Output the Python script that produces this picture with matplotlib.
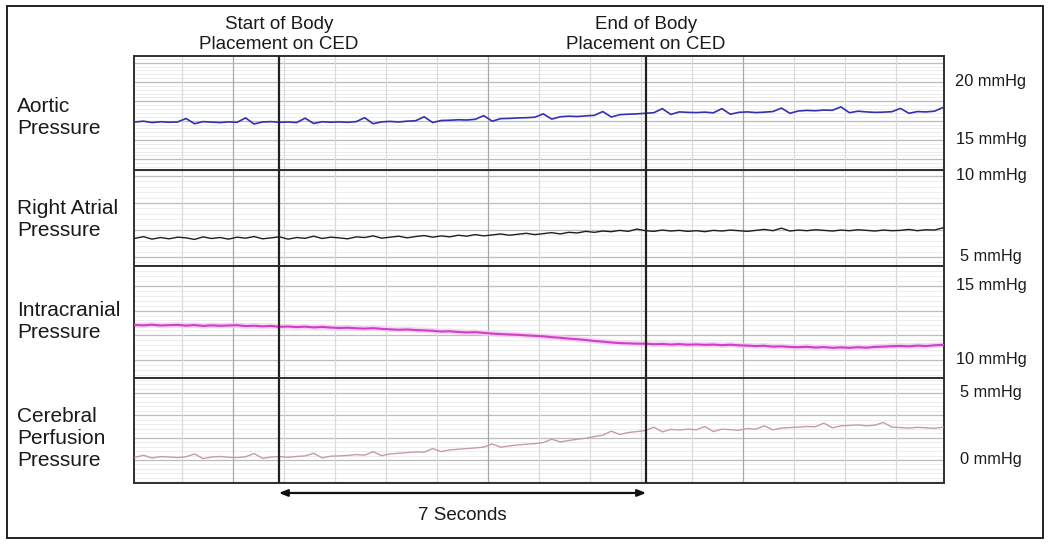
import matplotlib
matplotlib.use('Agg')
import matplotlib.pyplot as plt
import matplotlib.transforms as mtransforms
from matplotlib.patches import Rectangle
import numpy as np

plt.rcParams['font.family'] = ['Liberation Sans', 'DejaVu Sans']

# time axis in grid units (one vertical grid division each)
t = np.linspace(0.08, 15.92, 96)
event_start = 2.9
event_end = 10.1

aortic = [16.55, 16.62, 16.50, 16.57, 16.53, 16.55,
          16.85, 16.40, 16.58, 16.54, 16.50, 16.56,
          16.52, 16.90, 16.38, 16.55, 16.58, 16.52,
          16.55, 16.50, 16.88, 16.42, 16.57, 16.53,
          16.56, 16.52, 16.58, 16.92, 16.40, 16.56,
          16.60, 16.55, 16.62, 16.66, 17.00, 16.50,
          16.68, 16.70, 16.74, 16.72, 16.78, 17.10,
          16.62, 16.84, 16.86, 16.90, 16.92, 16.96,
          17.25, 16.80, 17.00, 17.05, 17.02, 17.08,
          17.12, 17.45, 16.98, 17.18, 17.22, 17.25,
          17.30, 17.35, 17.70, 17.20, 17.42, 17.38,
          17.36, 17.40, 17.34, 17.70, 17.22, 17.38,
          17.42, 17.36, 17.40, 17.45, 17.75, 17.30,
          17.50, 17.55, 17.52, 17.58, 17.56, 17.85,
          17.35, 17.48, 17.42, 17.38, 17.40, 17.44,
          17.72, 17.30, 17.45, 17.42, 17.48, 17.80]

right_atrial = [6.15, 6.25, 6.10, 6.20, 6.12, 6.22,
                6.18, 6.08, 6.24, 6.14, 6.20, 6.10,
                6.22, 6.16, 6.26, 6.12, 6.18, 6.24,
                6.10, 6.20, 6.15, 6.28, 6.14, 6.22,
                6.18, 6.12, 6.24, 6.20, 6.30, 6.16,
                6.22, 6.28, 6.18, 6.26, 6.32, 6.22,
                6.30, 6.24, 6.34, 6.28, 6.38, 6.30,
                6.36, 6.42, 6.34, 6.40, 6.46, 6.38,
                6.44, 6.50, 6.42, 6.52, 6.48, 6.58,
                6.52, 6.60, 6.56, 6.64, 6.58, 6.72,
                6.62, 6.58, 6.66, 6.60, 6.64, 6.58,
                6.62, 6.56, 6.64, 6.60, 6.66, 6.62,
                6.58, 6.64, 6.70, 6.62, 6.78, 6.60,
                6.66, 6.62, 6.68, 6.64, 6.60, 6.66,
                6.62, 6.68, 6.64, 6.60, 6.66, 6.62,
                6.64, 6.70, 6.62, 6.68, 6.66, 6.80]

intracranial = [12.36, 12.34, 12.38, 12.33, 12.35, 12.37,
                12.32, 12.36, 12.30, 12.34, 12.31, 12.33,
                12.35, 12.29, 12.31, 12.27, 12.30, 12.24,
                12.26, 12.22, 12.25, 12.20, 12.23, 12.19,
                12.16, 12.18, 12.14, 12.12, 12.15, 12.10,
                12.07, 12.04, 12.06, 12.02, 12.00, 11.97,
                11.92, 11.94, 11.89, 11.86, 11.88, 11.83,
                11.78, 11.75, 11.72, 11.70, 11.66, 11.63,
                11.60, 11.54, 11.50, 11.44, 11.40, 11.35,
                11.28, 11.24, 11.18, 11.14, 11.12, 11.10,
                11.10, 11.06, 11.08, 11.04, 11.07, 11.03,
                11.05, 11.02, 11.04, 11.00, 11.03, 10.99,
                10.97, 10.94, 10.96, 10.90, 10.92, 10.88,
                10.86, 10.89, 10.84, 10.87, 10.82, 10.85,
                10.82, 10.86, 10.83, 10.88, 10.90, 10.93,
                10.95, 10.92, 10.97, 10.94, 10.99, 11.02]

cerebral = [0.20, 0.35, 0.15, 0.25, 0.22, 0.18,
            0.24, 0.45, 0.10, 0.22, 0.26, 0.20,
            0.18, 0.24, 0.48, 0.12, 0.22, 0.25,
            0.20, 0.26, 0.30, 0.50, 0.16, 0.28,
            0.30, 0.34, 0.40, 0.36, 0.62, 0.32,
            0.45, 0.50, 0.55, 0.60, 0.58, 0.85,
            0.62, 0.75, 0.80, 0.85, 0.90, 0.96,
            1.20, 0.95, 1.05, 1.12, 1.18, 1.22,
            1.30, 1.55, 1.35, 1.45, 1.55, 1.62,
            1.75, 1.85, 2.15, 1.90, 2.05, 2.12,
            2.20, 2.45, 2.10, 2.28, 2.24, 2.30,
            2.25, 2.50, 2.12, 2.30, 2.26, 2.22,
            2.35, 2.30, 2.55, 2.25, 2.38, 2.42,
            2.45, 2.50, 2.48, 2.75, 2.40, 2.55,
            2.58, 2.62, 2.55, 2.60, 2.80, 2.45,
            2.42, 2.38, 2.44, 2.40, 2.36, 2.45]

panel_names = ['Aortic\nPressure', 'Right Atrial\nPressure',
               'Intracranial\nPressure', 'Cerebral\nPerfusion\nPressure']
panel_ylims = [(12.41, 22.24), (4.44, 10.37), (8.78, 16.35), (-1.72, 6.12)]
scale_labels = [[20, 15], [10, 5], [15, 10], [5, 0]]
series = [aortic, right_atrial, intracranial, cerebral]
colors = ['#3430b0', '#1e1e1e', '#cc40c4', '#c99aa8']
widths = [1.2, 1.0, 1.5, 1.0]

W, H = 1050, 545
fig = plt.figure(figsize=(10.5, 5.45), dpi=100)

# pixel rows of the four panels (top, bottom)
rows = [(56, 170), (170, 266), (266, 378), (378, 483)]
label_rows = [117, 220, 322, 438]
x0, x1 = 134, 944

axes = []
for i, (top, bot) in enumerate(rows):
    ax = fig.add_axes([x0 / W, 1 - bot / H, (x1 - x0) / W, (bot - top) / H])
    lo, hi = panel_ylims[i]
    ax.set_xlim(0.06, 15.94)
    ax.set_ylim(lo, hi)
    # chart-paper grid
    for v in np.arange(np.ceil(lo * 3) / 3, hi, 1 / 3):
        ax.axhline(v, color='#ededed', lw=0.7, zorder=0)
    top_lab = scale_labels[i][0]
    for k in range(-3, 6):
        v = top_lab - k * 5 / 3
        if lo < v < hi:
            ax.axhline(v, color='#bcbcbc', lw=0.9, zorder=1)
    for g in range(1, 16):
        c = '#a8a8a8' if g in (2, 7, 12) else '#dadada'
        ax.axvline(g, color=c, lw=0.9, zorder=1)
    if i == 2:
        ax.plot(t, series[i], color='#f6c8f2', lw=4, alpha=0.8, zorder=2,
                solid_capstyle='butt')
    ax.plot(t, series[i], color=colors[i], lw=widths[i], zorder=3)
    for xe in (event_start, event_end):
        ax.axvline(xe, color='#222222', lw=1.6, zorder=5)
    ax.set_xticks([])
    ax.set_yticks([])
    for s in ax.spines.values():
        s.set_color('#303030')
        s.set_linewidth(1.4)
    tr = mtransforms.blended_transform_factory(ax.transAxes, ax.transData)
    for v in scale_labels[i]:
        ax.text(1.058, v, f'{v} mmHg', transform=tr, ha='center', va='center',
                fontsize=11.8, color='#1a1a1a')
    fig.text(17 / W, 1 - label_rows[i] / H, panel_names[i], ha='left',
             va='center', fontsize=15, color='#1a1a1a', linespacing=1.2)
    axes.append(ax)

ax_top = axes[0]
trt = mtransforms.blended_transform_factory(ax_top.transData, ax_top.transAxes)
ax_top.text(event_start, 1.03, 'Start of Body\nPlacement on CED', transform=trt,
            ha='center', va='bottom', fontsize=13.5, color='#1a1a1a')
ax_top.text(event_end, 1.03, 'End of Body\nPlacement on CED', transform=trt,
            ha='center', va='bottom', fontsize=13.5, color='#1a1a1a')

ax_bot = axes[-1]
ax_bot.annotate('', xy=(event_end, -0.095), xytext=(event_start, -0.095),
                xycoords=('data', 'axes fraction'),
                textcoords=('data', 'axes fraction'), annotation_clip=False,
                arrowprops=dict(arrowstyle='<|-|>,head_length=0.5,head_width=0.2',
                                color='#111111', lw=1.6, shrinkA=0, shrinkB=0))
ax_bot.text((event_start + event_end) / 2, -0.31, '7 Seconds',
            transform=mtransforms.blended_transform_factory(ax_bot.transData, ax_bot.transAxes),
            ha='center', va='center', fontsize=13.5, color='#1a1a1a')

# outer frame
fig.patches.append(Rectangle((7 / W, 1 - 538 / H), (1043 - 7) / W, (538 - 6) / H,
                             transform=fig.transFigure, fill=False,
                             edgecolor='#111111', lw=1.3))

plt.savefig('out.png', dpi=100)
